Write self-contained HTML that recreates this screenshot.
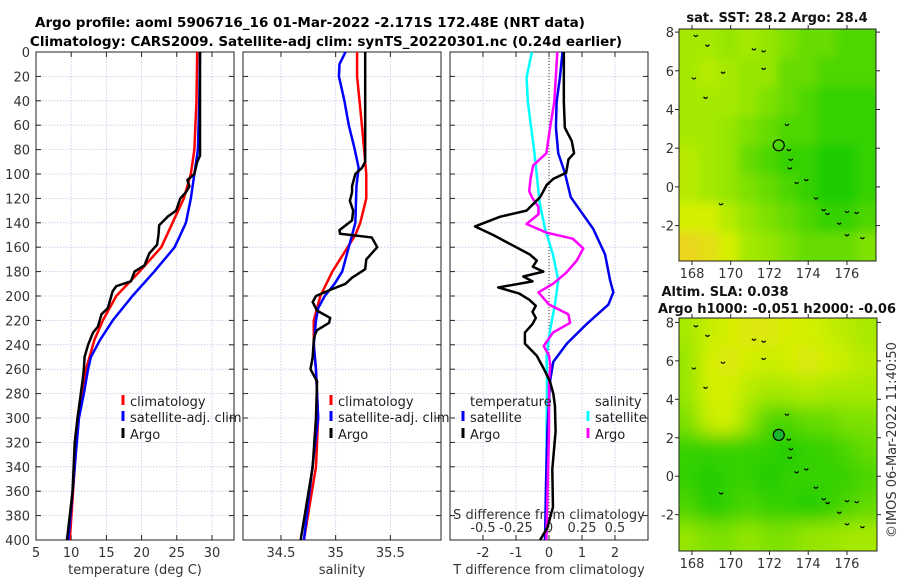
<!DOCTYPE html>
<html><head><meta charset="utf-8">
<style>
html,body{margin:0;padding:0;background:#fff;}
svg{display:block;font-family:"DejaVu Sans","Liberation Sans",sans-serif;}
</style></head>
<body>
<svg id="chart" width="900" height="580" viewBox="0 0 900 580" xmlns="http://www.w3.org/2000/svg">
<defs>
<filter id="blurTop" x="0" y="0" width="1" height="1"><feGaussianBlur stdDeviation="5"/></filter>
<filter id="blurBot" x="0" y="0" width="1" height="1"><feGaussianBlur stdDeviation="9"/></filter>
<clipPath id="clipTop"><rect x="679" y="29" width="197" height="232"/></clipPath>
<clipPath id="clipBot"><rect x="679" y="318" width="198" height="233"/></clipPath>
</defs>
<text x="310" y="27" font-size="13.5" font-weight="bold" text-anchor="middle">Argo profile: aoml 5906716_16 01-Mar-2022 -2.171S 172.48E (NRT data)</text>
<text x="326" y="46" font-size="13.5" font-weight="bold" text-anchor="middle">Climatology: CARS2009. Satellite-adj clim: synTS_20220301.nc (0.24d earlier)</text>
<g id="layer"></g>
</svg>
<script>
// ---------- data ----------
const depthTicks = [0,20,40,60,80,100,120,140,160,180,200,220,240,260,280,300,320,340,360,380,400];
const tempTicks = [5,10,15,20,25,30];
const salTicks = [34.5,35,35.5];
const tdiffTicks = [-2,-1,0,1,2];
const sdiffTicks = [-0.5,-0.25,0,0.25,0.5];
const sdiffLabels = ["-0.5","-0.25","0","0.25","0.5"];

const tClimDepth = [0,40,80,100,120,140,160,180,200,220,236,260,280,300,340,400];
const tClimVal   = [27.9,27.8,27.5,27.0,26.0,24.4,22.8,19.7,16.4,14.5,13.3,12.1,11.5,10.9,10.5,9.8];
const tSatDepth = [0,40,80,100,120,140,160,180,200,220,236,250,260,280,300,340,400];
const tSatVal   = [28.3,28.2,28.0,27.5,27.0,26.3,24.7,21.8,18.7,15.9,14.1,12.8,12.4,11.8,11.1,10.5,9.6];
const tArgoDepth = [0,85,90,100,105,110,115,120,130,135,142,150,158,165,175,180,188,192,196,200,210,215,225,230,240,250,260,270,300,320,360,400];
const tArgoVal   = [28.3,28.3,27.9,27.5,26.5,26.8,26.3,25.5,24.9,23.7,22.5,22.4,22.2,21.1,20.4,19.0,18.5,16.4,15.9,15.7,15.2,14.3,13.8,13.1,12.4,11.9,11.8,11.6,10.9,10.5,10.2,9.4];

const sClimDepth = [0,20,60,100,120,140,150,160,180,200,220,240,260,300,340,400];
const sClimVal   = [35.196,35.196,35.24,35.28,35.28,35.225,35.18,35.11,34.97,34.86,34.80,34.80,34.82,34.84,34.82,34.71];
const sSatDepth = [0,10,20,40,60,80,95,110,140,160,180,190,200,210,220,240,260,300,400];
const sSatVal   = [35.09,35.035,35.03,35.08,35.12,35.175,35.21,35.19,35.18,35.12,35.06,34.99,34.90,34.84,34.82,34.80,34.82,34.84,34.71];
const sArgoDepth = [0,90,95,100,110,115,122,130,138,146,149,152,160,170,178,185,190,195,200,205,212,218,222,228,232,236,250,260,270,300,340,400];
const sArgoVal   = [35.27,35.27,35.24,35.18,35.15,35.15,35.13,35.16,35.15,35.035,35.04,35.33,35.38,35.28,35.27,35.15,35.09,34.95,34.82,34.79,34.83,34.95,34.94,34.83,34.81,34.80,34.79,34.77,34.83,34.82,34.79,34.68];

const dtSatDepth = [0,21,41,62,83,99,119,145,166,187,197,207,223,239,254,270,311,353,400];
const dtSatVal   = [0.41,0.33,0.23,0.21,0.28,0.48,0.66,1.34,1.7,1.85,1.95,1.8,1.14,0.54,0.13,0.03,-0.05,-0.09,-0.12];
const dtArgoDepth = [0,21,41,62,73,83,88,99,104,109,119,130,135,143,150,166,171,176,180,184,188,193,198,203,208,213,218,223,230,239,249,259,270,280,290,311,342,373,390,400];
const dtArgoVal   = [0.45,0.45,0.45,0.48,0.69,0.76,0.59,0.52,0.13,-0.07,-0.27,-0.68,-1.48,-2.24,-1.69,-0.58,-0.37,-0.49,-0.17,-0.78,-0.5,-1.54,-0.9,-0.6,-0.4,-0.5,-0.4,-0.5,-0.73,-0.73,-0.37,-0.17,0.03,0.13,0.18,0.2,0.1,0.12,-0.05,-0.27];
const dsSatDepth = [0,21,41,83,124,145,166,187,207,228,249,270,311,400];
const dsSatVal   = [-0.13,-0.17,-0.16,-0.11,-0.07,-0.03,0.03,0.07,0.045,0.008,-0.018,-0.015,-0.018,-0.02];
const dsArgoDepth = [0,41,62,83,93,104,114,119,127,133,141,148,153,161,171,181,190,197,207,215,222,230,241,249,257,270,311,400];
const dsArgoVal   = [0.063,0.04,0.008,-0.02,-0.12,-0.14,-0.15,-0.13,-0.08,-0.08,-0.17,-0.02,0.18,0.26,0.21,0.13,0.03,-0.08,0.0,0.146,0.16,0.03,-0.04,0.0,0.01,0.0,0.0,-0.02];

const lonTicks = [168,170,172,174,176];
const latTicks = [-2,0,2,4,6,8];
const argoLon = 172.48, argoLat = 2.15;
const sstGrid = [
 [0.6,0.6,0.5,0.6,0.5,0.4,0.3,0.3,0.2,0.2],
 [0.6,0.7,0.6,0.5,0.5,0.3,0.3,0.2,0.2,0.2],
 [0.6,0.6,0.6,0.5,0.4,0.3,0.2,0.1,0.1,0.1],
 [0.6,0.6,0.5,0.4,0.3,0.2,0.2,0.1,0.1,0.1],
 [0.7,0.6,0.5,0.3,0.2,0.1,0.1,0.0,0.0,0.1],
 [0.7,0.6,0.5,0.4,0.3,0.2,0.1,0.0,0.0,0.1],
 [0.9,0.9,0.7,0.5,0.4,0.3,0.2,0.1,0.1,0.2],
 [1.2,1.1,0.9,0.6,0.5,0.4,0.3,0.3,0.3,0.4]];
const slaGrid = [
 [0.6,0.8,0.9,1.0,1.0,0.9,0.9,0.8,0.7,0.6],
 [0.5,0.9,1.0,0.9,0.8,0.9,1.0,0.9,0.8,0.7],
 [0.5,0.9,0.9,0.7,0.6,0.6,0.7,0.6,0.6,0.6],
 [0.4,0.8,0.9,0.5,0.2,0.2,0.3,0.3,0.4,0.4],
 [0.1,0.1,0.1,0.1,0.1,0.0,0.1,0.1,0.2,0.3],
 [0.1,0.0,0.1,0.1,0.0,0.1,0.1,0.1,0.1,0.2],
 [0.2,0.0,0.1,0.2,0.1,0.1,0.0,0.1,0.2,0.3],
 [0.5,0.4,0.4,0.5,0.4,0.4,0.5,0.5,0.6,0.6]];
const islandLon = [168.2,168.8,169.6,168.1,168.7,171.2,171.7,171.7,172.9,173.0,173.1,173.05,173.4,173.9,174.4,174.8,175.0,176.0,176.5,175.6,176.0,176.8,169.5];
const islandLat = [7.8,7.3,5.9,5.6,4.6,7.1,7.0,6.1,3.2,1.9,1.4,0.95,0.2,0.35,-0.6,-1.2,-1.4,-1.3,-1.35,-1.9,-2.5,-2.65,-0.9];

// ---------- helpers ----------
const NS = "http://www.w3.org/2000/svg";
const layer = document.getElementById('layer');
function el(tag, attrs, parent){
  const e = document.createElementNS(NS, tag);
  for (const k in attrs) e.setAttribute(k, attrs[k]);
  (parent||layer).appendChild(e);
  return e;
}
const Y0 = 52, Y1 = 540;
const yDepth = d => Y0 + d/400*(Y1-Y0);
function lin(d0,d1,r0,r1){ return v => r0 + (v-d0)/(d1-d0)*(r1-r0); }

const panels = [
 {x0:36, x1:234, sx: lin(5,33.13,36,234)},
 {x0:243, x1:441, sx: lin(34.153,35.963,243,441)},
 {x0:450, x1:648, sx: lin(-3,3,450,648)}
];
const sdx = lin(-0.75,0.75,450,648);

function frameAndGrid(p, xticks, name){
  const g = el('g',{});
  
  
  depthTicks.forEach(d=>{
    const y = yDepth(d);
    const l = el('line',{x1:p.x0,x2:p.x1,y1:y,y2:y,stroke:'#c2c8e6','stroke-width':0.8,'stroke-dasharray':'1.5,1.5'},g);
    
    
    el('line',{x1:p.x0,x2:p.x0+5,y1:y,y2:y,stroke:'#222'},g);
    el('line',{x1:p.x1-5,x2:p.x1,y1:y,y2:y,stroke:'#222'},g);
  });
  xticks.forEach(v=>{
    const x = p.sx(v);
    const l = el('line',{x1:x,x2:x,y1:Y0,y2:Y1,stroke:'#c2c8e6','stroke-width':0.8,'stroke-dasharray':'1.5,1.5'},g);
    
    
    el('line',{x1:x,x2:x,y1:Y1-5,y2:Y1,stroke:'#222'},g);
    el('line',{x1:x,x2:x,y1:Y0,y2:Y0+5,stroke:'#222'},g);
  });
  const r = el('rect',{x:p.x0,y:Y0,width:p.x1-p.x0,height:Y1-Y0,fill:'none',stroke:'#222','stroke-width':1},g);
  
  
  return g;
}
function profile(depths, vals, sx, color, w, name){
  let d = '';
  for (let i=0;i<depths.length;i++){
    d += (i?'L':'M') + sx(vals[i]).toFixed(2) + ',' + yDepth(depths[i]).toFixed(2);
  }
  const p = el('path',{d:d,fill:'none',stroke:color,'stroke-width':w,'stroke-linejoin':'round'});
  
  
}
function text(x,y,s,opts,name){
  const t = el('text',Object.assign({x:x,y:y,'font-size':13,fill:'#333'},opts||{}));
  t.textContent = s;
  
  
  return t;
}
function legendItem(x,y,label,color,name){
  const m = el('line',{x1:x,x2:x,y1:y-11,y2:y-1,stroke:color,'stroke-width':3});
  
  
  text(x+7,y,label,{fill:'#222'},name);
}

// ---------- panels ----------
frameAndGrid(panels[0], tempTicks, 'temperature-panel');
frameAndGrid(panels[1], salTicks, 'salinity-panel');
frameAndGrid(panels[2], tdiffTicks, 'difference-panel');

depthTicks.forEach(d=>{ text(30, yDepth(d)+5, String(d), {'text-anchor':'end'}, 'depth-tick-label'); });
tempTicks.forEach(v=>{ text(panels[0].sx(v), 557, String(v), {'text-anchor':'middle'}, 'temperature-tick-label'); });
salTicks.forEach(v=>{ text(panels[1].sx(v), 557, String(v), {'text-anchor':'middle'}, 'salinity-tick-label'); });
tdiffTicks.forEach(v=>{ text(panels[2].sx(v), 557, String(v), {'text-anchor':'middle'}, 'tdiff-tick-label'); });
sdiffTicks.forEach((v,i)=>{ text(sdx(v), 532, sdiffLabels[i], {'text-anchor':'middle'}, 'sdiff-tick-label'); });
text(135, 574, 'temperature (deg C)', {'text-anchor':'middle'}, 'x-axis-title-temperature');
text(342, 574, 'salinity', {'text-anchor':'middle'}, 'x-axis-title-salinity');
text(549, 574, 'T difference from climatology', {'text-anchor':'middle'}, 'x-axis-title-tdiff');
text(549, 519, 'S difference from climatology', {'text-anchor':'middle'}, 'x-axis-title-sdiff');

// zero line in diff panel
const z = el('line',{x1:panels[2].sx(0),x2:panels[2].sx(0),y1:Y0,y2:Y1,stroke:'#333','stroke-width':1,'stroke-dasharray':'1,2'});



profile(tClimDepth,tClimVal,panels[0].sx,'#ff0000',2.5,'temperature-climatology-line');
profile(tSatDepth,tSatVal,panels[0].sx,'#0000ff',2.5,'temperature-satellite-line');
profile(tArgoDepth,tArgoVal,panels[0].sx,'#000000',2.5,'temperature-argo-line');
profile(sClimDepth,sClimVal,panels[1].sx,'#ff0000',2.5,'salinity-climatology-line');
profile(sSatDepth,sSatVal,panels[1].sx,'#0000ff',2.5,'salinity-satellite-line');
profile(sArgoDepth,sArgoVal,panels[1].sx,'#000000',2.5,'salinity-argo-line');
profile(dsSatDepth,dsSatVal,sdx,'#00ffff',2.5,'sdiff-satellite-line');
profile(dtSatDepth,dtSatVal,panels[2].sx,'#0000ee',2.5,'tdiff-satellite-line');
profile(dsArgoDepth,dsArgoVal,sdx,'#ff00ff',2.5,'sdiff-argo-line');
profile(dtArgoDepth,dtArgoVal,panels[2].sx,'#000000',2.5,'tdiff-argo-line');

legendItem(123,406,'climatology','#ff0000','legend-climatology');
legendItem(123,422,'satellite-adj. clim','#0000ff','legend-satellite');
legendItem(123,439,'Argo','#000000','legend-argo');
legendItem(331,406,'climatology','#ff0000','legend-climatology-sal');
legendItem(331,422,'satellite-adj. clim','#0000ff','legend-satellite-sal');
legendItem(331,439,'Argo','#000000','legend-argo-sal');
text(470,406,'temperature',{fill:'#222'},'legend-temperature-header');
legendItem(463,422,'satellite','#0000ff','legend-tdiff-satellite');
legendItem(463,439,'Argo','#000000','legend-tdiff-argo');
text(595,406,'salinity',{fill:'#222'},'legend-salinity-header');
legendItem(588,422,'satellite','#00ffff','legend-sdiff-satellite');
legendItem(588,439,'Argo','#ff00ff','legend-sdiff-argo');

// ---------- maps ----------
function mapColor(v){
  const stops = [[0,[30,204,0]],[0.5,[150,230,0]],[0.9,[214,240,0]],[1.3,[240,205,40]]];
  for (let i=1;i<stops.length;i++){
    if (v<=stops[i][0] || i===stops.length-1){
      const a=stops[i-1], b=stops[i];
      const t=Math.max(0,Math.min(1,(v-a[0])/(b[0]-a[0])));
      const c=a[1].map((q,k)=>Math.round(q+(b[1][k]-q)*t));
      return 'rgb('+c.join(',')+')';
    }
  }
}
function drawMap(m){
  const sx = lin(m.lon0,m.lon1,m.x0,m.x1);
  const sy = lin(m.lat0,m.lat1,m.y0,m.y1);
  const g = el('g',{'clip-path':'url(#'+m.clip+')'});
  
  
  const inner = el('g',{filter:'url(#'+m.blur+')'},g);
  const rows = m.grid.length, cols = m.grid[0].length;
  const cw = (m.x1-m.x0)/cols, ch = (m.y1-m.y0)/rows;
  el('rect',{x:m.x0-20,y:m.y0-20,width:m.x1-m.x0+40,height:m.y1-m.y0+40,fill:mapColor(0.4)},inner);
  for (let r=0;r<rows;r++) for (let c=0;c<cols;c++){
    const cell = el('rect',{x:m.x0+c*cw-(c===0?20:0),y:m.y0+r*ch-(r===0?20:0),width:cw+1+(c===0||c===cols-1?20:0),height:ch+1+(r===0||r===rows-1?20:0),fill:mapColor(m.grid[r][c])},inner);
    
    
  }
  islandLon.forEach((lo,i)=>{
    const x=sx(lo), y=sy(islandLat[i]);
    const isl = el('path',{d:'M'+(x-2)+','+(y-1)+'q2,3 4,0',fill:'none',stroke:'#000','stroke-width':1.2},g);
    
    
  });
  const c = el('circle',{cx:sx(argoLon),cy:sy(argoLat),r:5.5,fill:m.circleFill,stroke:'#000','stroke-width':1.2},g);
  
  
  const fr = el('rect',{x:m.x0,y:m.y0,width:m.x1-m.x0,height:m.y1-m.y0,fill:'none',stroke:'#222'});
  
  
  lonTicks.forEach(v=>{
    const x=sx(v);
    el('line',{x1:x,x2:x,y1:m.y1,y2:m.y1+4,stroke:'#222'});
    el('line',{x1:x,x2:x,y1:m.y0,y2:m.y0-4,stroke:'#222'});
    text(x,m.y1+17,String(v),{'text-anchor':'middle'},'longitude-tick-label');
  });
  latTicks.forEach(v=>{
    const y=sy(v);
    el('line',{x1:m.x0-4,x2:m.x0,y1:y,y2:y,stroke:'#222'});
    el('line',{x1:m.x1,x2:m.x1+4,y1:y,y2:y,stroke:'#222'});
    text(m.x0-5,y+5,String(v),{'text-anchor':'end'},'latitude-tick-label');
  });
}
drawMap({name:'sst-map',grid:sstGrid,x0:679,x1:876,y0:29,y1:261,lon0:167.33,lon1:177.5,lat0:8.16,lat1:-3.83,clip:'clipTop',blur:'blurTop',circleFill:'none'});
drawMap({name:'sla-map',grid:slaGrid,x0:679,x1:877,y0:318,y1:551,lon0:167.33,lon1:177.55,lat0:8.23,lat1:-3.89,clip:'clipBot',blur:'blurBot',circleFill:'#18b830'});
text(777,22,'sat. SST: 28.2 Argo: 28.4',{'text-anchor':'middle','font-weight':'bold',fill:'#111'},'sst-map-title');
text(725,296,'Altim. SLA: 0.038',{'text-anchor':'middle','font-weight':'bold',fill:'#111'},'sla-map-title-1');
text(777,313,'Argo h1000: -0.051 h2000: -0.06',{'text-anchor':'middle','font-weight':'bold',fill:'#111'},'sla-map-title-2');
text(0,0,'©IMOS 06-Mar-2022 11:40:50',{'text-anchor':'middle',transform:'translate(896,440) rotate(-90)'},'copyright-timestamp');
</script>
</body></html>
